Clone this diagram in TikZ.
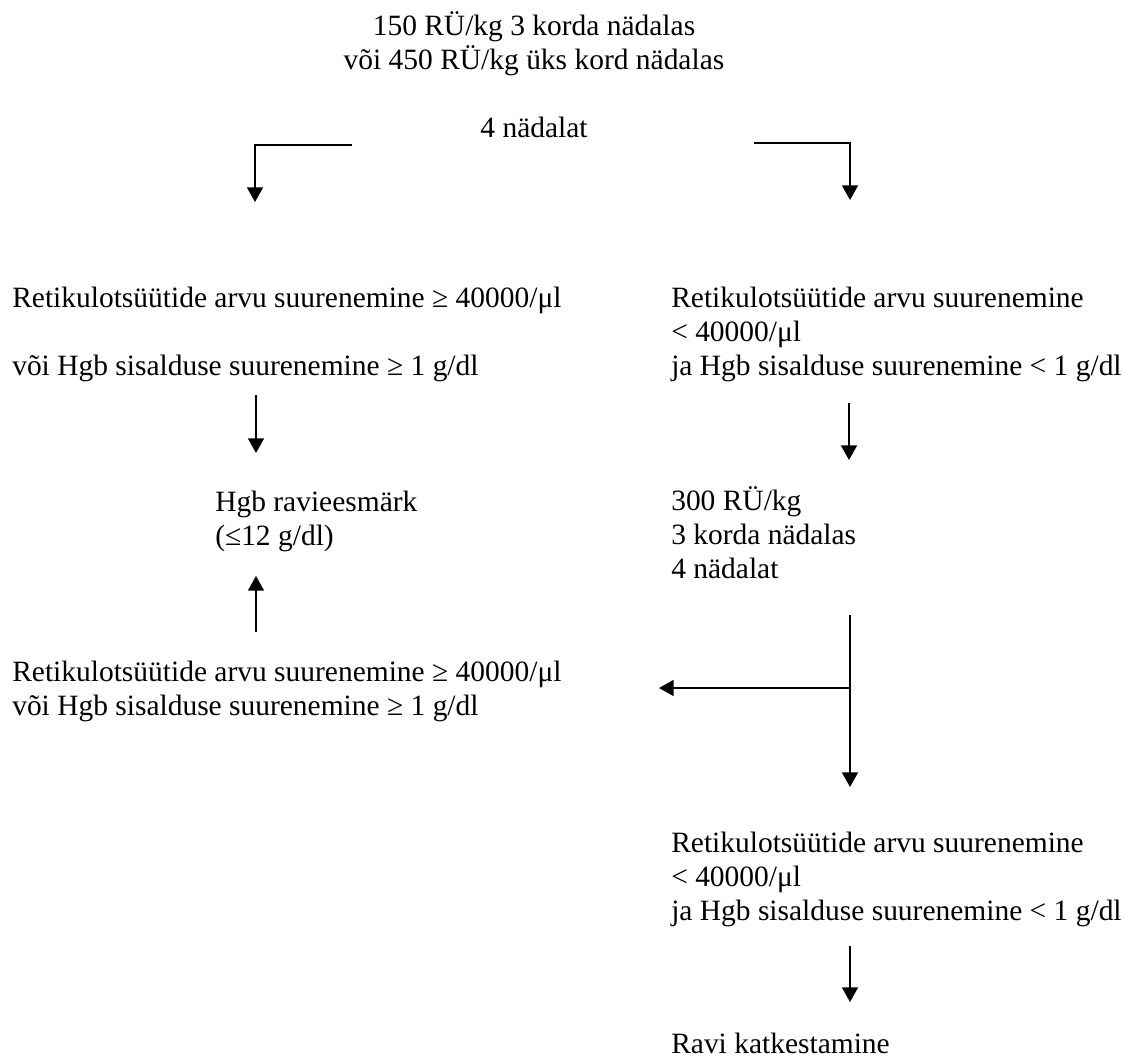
\documentclass[tikz,border=0pt]{standalone}
\usepackage{fontspec}
\setmainfont{Liberation Serif}
\usetikzlibrary{arrows.meta}

\begin{document}
\begin{tikzpicture}[x=0.75pt,y=0.75pt,yscale=-1,xscale=1,
  txt/.style={anchor=base west,inner sep=0pt,align=left,font=\fontsize{22.1}{25.5}\selectfont},
  arr/.style={line width=1.3pt,-{Triangle[width=12pt,length=11pt]}}]
\useasboundingbox (0,0) rectangle (1123,1059);

% Text Node
\node[txt,anchor=base,align=center] (start) at (534,138) {150 RÜ/kg 3 korda nädalas\\või 450 RÜ/kg üks kord nädalas\\[25.5pt]4 nädalat};
% Text Node
\node[txt] (upL) at (12,375) {Retikulotsüütide arvu suurenemine ≥ 40000/μl\\[25.5pt]või Hgb sisalduse suurenemine ≥ 1 g/dl};
% Text Node
\node[txt] (lowR) at (671,375) {Retikulotsüütide arvu suurenemine\\< 40000/μl\\ja Hgb sisalduse suurenemine < 1 g/dl};
% Text Node
\node[txt] (goal) at (215,545) {Hgb ravieesmärk\\(≤12 g/dl)};
% Text Node
\node[txt] (dose) at (671,578) {300 RÜ/kg\\3 korda nädalas\\4 nädalat};
% Text Node
\node[txt] (upL2) at (12,715) {Retikulotsüütide arvu suurenemine ≥ 40000/μl\\või Hgb sisalduse suurenemine ≥ 1 g/dl};
% Text Node
\node[txt] (lowR2) at (671,920) {Retikulotsüütide arvu suurenemine\\< 40000/μl\\ja Hgb sisalduse suurenemine < 1 g/dl};
% Text Node
\node[txt] (stop) at (671,1053) {Ravi katkestamine};

% Arrow end points
\coordinate (startL) at (352,145);
\coordinate (startLend) at (255,202);
\coordinate (startR) at (754,143);
\coordinate (startRend) at (850,200);
\coordinate (upLa) at (256,395);
\coordinate (upLb) at (256,453);
\coordinate (lowRa) at (849,403);
\coordinate (lowRb) at (849,460);
\coordinate (upL2a) at (256,632);
\coordinate (upL2b) at (256,576);
\coordinate (dosea) at (850,615);
\coordinate (doseb) at (850,787);
\coordinate (branch) at (850,688);
\coordinate (branchend) at (659,688);
\coordinate (lowR2a) at (850,946);
\coordinate (lowR2b) at (850,1002);

% Straight Lines
\draw[arr] (startL) -| (startLend);
\draw[arr] (startR) -| (startRend);
\draw[arr] (upLa) -- (upLb);
\draw[arr] (lowRa) -- (lowRb);
\draw[arr] (upL2a) -- (upL2b);
\draw[arr] (dosea) -- (doseb);
\draw[arr] (branch) -- (branchend);
\draw[arr] (lowR2a) -- (lowR2b);

\end{tikzpicture}
\end{document}
